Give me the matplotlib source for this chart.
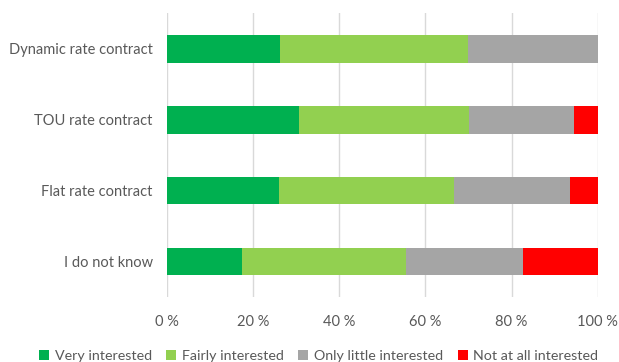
import numpy as np
import matplotlib
matplotlib.use("Agg")
import matplotlib.pyplot as plt
from matplotlib.ticker import FuncFormatter

# Datos (porcentajes acumulados por categoria)
categories = ["Dynamic rate contract", "TOU rate contract", "Flat rate contract", "I do not know"]
very = [26.3, 30.7, 26.1, 17.5]
fairly = [43.6, 39.5, 40.6, 38.1]
little = [30.1, 24.2, 26.8, 27.1]
not_at_all = [0.0, 5.6, 6.5, 17.3]

series = ["Very interested", "Fairly interested", "Only little interested", "Not at all interested"]
colors = ["#00b050", "#92d050", "#a5a5a5", "#ff0000"]

plt.rcParams['font.family'] = ['Lato', 'DejaVu Sans']
txt = "#595959"

fig = plt.figure(figsize=(6.19, 3.62), dpi=100)
ax = fig.add_axes([0.2693, 0.1796, 0.6963, 0.7837])

y = np.arange(len(categories))
left = np.zeros(len(categories))
for vals, name, c in zip([very, fairly, little, not_at_all], series, colors):
    vals = np.array(vals)
    ax.barh(y, vals, left=left, height=0.39, color=c, label=name, zorder=3)
    left += vals

ax.set_xlim(0, 100)
ax.set_ylim(3.5, -0.5)
ax.set_yticks(y)
ax.set_yticklabels(categories, color=txt, fontsize=10.5)
ax.set_xticks(np.arange(0, 101, 20))
ax.xaxis.set_major_formatter(FuncFormatter(lambda v, p: f"{int(v)} %"))
for lab in ax.get_xticklabels():
    lab.set_color(txt)
    lab.set_fontsize(10.5)
ax.tick_params(length=0, pad=10)
ax.tick_params(axis="x", pad=13)
ax.grid(axis="x", color="#d9d9d9", linewidth=1, zorder=0)
for s in ax.spines.values():
    s.set_visible(False)

fig.legend(loc="lower center", bbox_to_anchor=(0.515, -0.035), ncol=4, frameon=False,
           handlelength=0.7, handleheight=0.7, handletextpad=0.4, columnspacing=1.0,
           fontsize=10.3, labelcolor=txt)

fig.savefig("out.png", dpi=100)
